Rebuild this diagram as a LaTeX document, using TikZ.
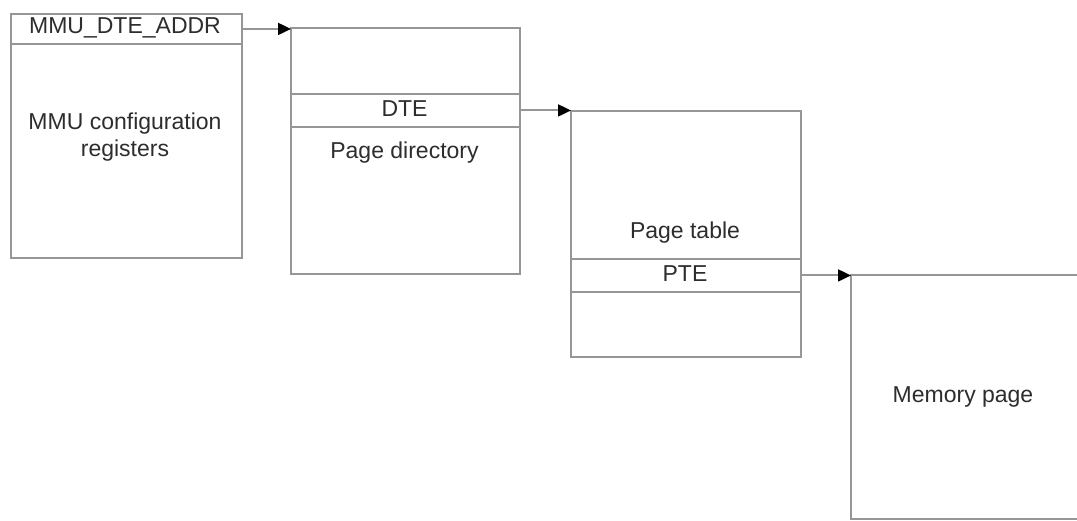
\documentclass[tikz,border=0pt]{standalone}
\usepackage{fontspec}
\setmainfont{Liberation Sans}
\usetikzlibrary{arrows.meta}
\definecolor{linegray}{RGB}{150,150,150}
\definecolor{txt}{RGB}{45,45,45}
\tikzset{
  box/.style={draw=linegray, line width=1.9pt, inner sep=0pt, anchor=north west},
  lbl/.style={text=txt, font=\fontsize{23}{27}\selectfont, align=center, inner sep=0pt},
  conn/.style={draw=linegray, line width=1.9pt, -{Triangle[length=13pt,width=12pt,black]}, shorten >=-1pt}
}
\begin{document}
\begin{tikzpicture}[x=1pt,y=-1pt]
\useasboundingbox (0,0) rectangle (1077,521);
\fill[white] (0,0) rectangle (1077,521);
% box 1
\node[box, minimum width=231pt, minimum height=244pt] (b1) at (10,13) {};
\node[box, minimum width=231pt, minimum height=30pt] (hdr) at (10,13) {};
\node[lbl] (t1) at (125,28) {MMU\_DTE\_ADDR};
\node[lbl] (t2) at (125,137) {MMU configuration\\registers};
% box 2
\node[box, minimum width=229pt, minimum height=246pt] (b2) at (290,27) {};
\node[box, minimum width=229pt, minimum height=33pt] (dte) at (290,93) {};
\node[lbl] (t3) at (404.5,109) {DTE};
\node[lbl] (t4) at (404.5,153) {Page directory};
% box 3
\node[box, minimum width=230pt, minimum height=246pt] (b3) at (570,110) {};
\node[box, minimum width=230pt, minimum height=33pt] (pte) at (570,258) {};
\node[lbl] (t5) at (685,233) {Page table};
\node[lbl] (t6) at (685,274) {PTE};
% box 4 (extends beyond right edge)
\node[box, minimum width=260pt, minimum height=244pt] (b4) at (850,274) {};
\node[lbl] (t7) at (963,397) {Memory page};
% connectors
\draw[conn] (hdr.east) -- (hdr.east -| b2.north west);
\draw[conn] (dte.east) -- (dte.east -| b3.north west);
\draw[conn] (pte.east) -- (pte.east -| b4.north west);
\end{tikzpicture}
\end{document}
